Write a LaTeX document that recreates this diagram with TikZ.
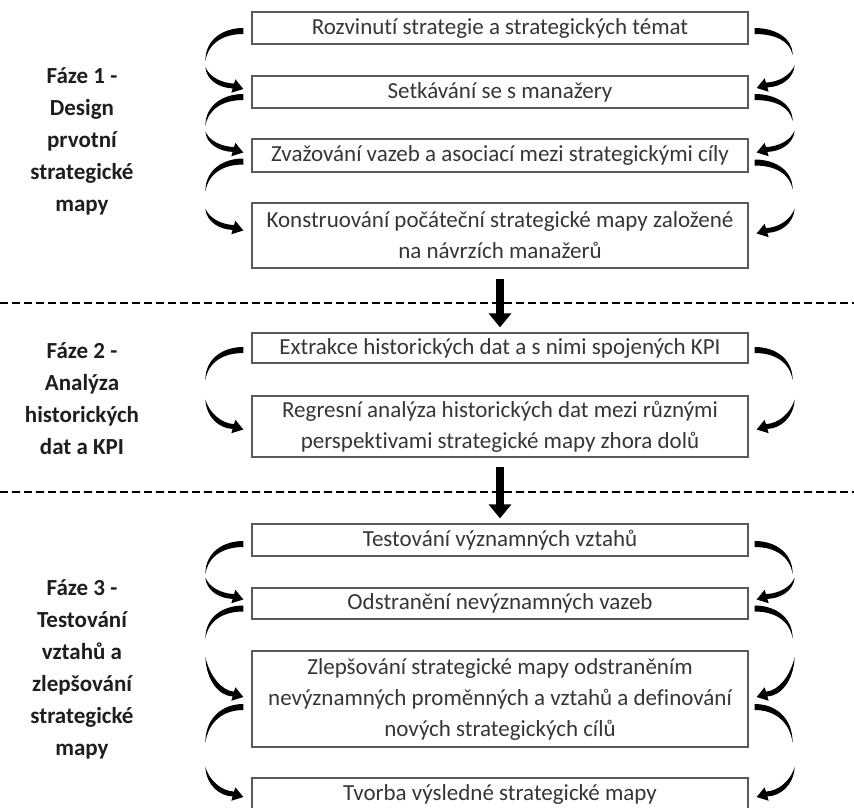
\documentclass[tikz,border=0pt]{standalone}
\usepackage{fontspec}
\setmainfont{Carlito}[Ligatures=NoCommon]
\usetikzlibrary{arrows.meta,calc}

\definecolor{boxgray}{HTML}{5A5A5A}
\definecolor{txtgray}{HTML}{363636}
\definecolor{lblgray}{HTML}{1E1E1E}

\tikzset{
  stage/.style={draw=boxgray, line width=1.3pt, minimum width=496pt, inner sep=0pt,
    align=center, text=txtgray, font=\fontsize{23}{31}\selectfont},
  phase/.style={align=center, text=lblgray, font=\bfseries\fontsize{23}{32}\selectfont},
  divider/.style={line width=2pt, dash pattern=on 8pt off 4pt},
  bigflow/.style={line width=8pt, -{Triangle[length=14pt,width=22pt]}},
  % tapered tail leaving a box, drawn for the left side (mirror with xscale=-1)
  pics/ltail/.style={code={
    \fill (0,-3) .. controls (-20,-3) and (-38,{0.27*#1}) .. (-38,#1)
      .. controls (-35,{0.4*#1}) and (-20,3) .. (0,3) -- cycle;}},
  % tapered curved arrow entering a box, origin at the tip
  pics/larrow/.style={code={
    \fill (-38,{-#1}) .. controls (-37,{-0.4*#1}) and (-24,-1) .. (-10.7,-0.6)
      -- (-12,3.7) -- (0,0) -- (-8,-9.7) -- (-9.3,-5.4)
      .. controls (-22,-6) and (-34,{-0.55*#1}) .. (-38,{-#1}) -- cycle;}},
}

\begin{document}
\begin{tikzpicture}[x=1pt,y=-1pt]
\useasboundingbox[fill=white] (0,0) rectangle (854,808);

% phase 1
\node[stage, minimum height=32pt] (b1) at (500,28) {Rozvinutí strategie a strategických témat};
\node[stage, minimum height=32pt] (b2) at (500,92) {Setkávání se s manažery};
\node[stage, minimum height=33pt] (b3) at (500,155.5) {Zvažování vazeb a asociací mezi strategickými cíly};
\node[stage, minimum height=65pt] (b4) at (500,235.5) {Konstruování počáteční strategické mapy založené\\na návrzích manažerů};

% phase 2
\node[stage, minimum height=30pt] (e1) at (500,348) {Extrakce historických dat a s nimi spojených KPI};
\node[stage, minimum height=61pt] (e2) at (500,426.5) {Regresní analýza historických dat mezi různými\\perspektivami strategické mapy zhora dolů};

% phase 3
\node[stage, minimum height=32pt] (t1) at (500,540) {Testování významných vztahů};
\node[stage, minimum height=31pt] (t2) at (500,603.5) {Odstranění nevýznamných vazeb};
\node[stage, minimum height=96pt] (t3) at (500,699) {Zlepšování strategické mapy odstraněním\\nevýznamných proměnných a vztahů a definování\\nových strategických cílů};
\node[stage, minimum height=32pt] (t4) at (500,794) {Tvorba výsledné strategické mapy};

% phase labels
\node[phase] (p1) at (82,141) {Fáze 1 -\\Design\\prvotní\\strategické\\mapy};
\node[phase] (p2) at (82,399) {Fáze 2 -\\Analýza\\historických\\dat a KPI};
\node[phase] (p3) at (82,669) {Fáze 3 -\\Testování\\vztahů a\\zlepšování\\strategické\\mapy};

% dividers between phases
\coordinate (d1l) at (0,303);   \coordinate (d1r) at (854,303);
\coordinate (d2l) at (0,492);   \coordinate (d2r) at (854,492);
\draw[divider] (d1l) -- (d1r);
\draw[divider] (d2l) -- (d2r);

% flow between phases
\draw[bigflow] ($(b4.south)+(0,10)$) -- ($(e1.north)+(0,-5)$);
\draw[bigflow] ($(e2.south)+(0,9)$) -- ($(t1.north)+(0,-5)$);

% left-hand loops
\pic at ($(b1.west)+(-8,3)$) {ltail=30};
\pic at ($(b2.west)+(-8,-3)$) {larrow=22};
\pic at ($(b2.west)+(-8,5)$) {ltail=29};
\pic at ($(b3.west)+(-8,-3)$) {larrow=21};
\pic at ($(b3.west)+(-8,6)$) {ltail=30};
\pic at ($(b4.west)+(-8,-5)$) {larrow=22};

\pic at ($(e1.west)+(-8,2)$) {ltail=30};
\pic at ($(e2.west)+(-8,3)$) {larrow=30};

\pic at ($(t1.west)+(-8,4)$) {ltail=30};
\pic at ($(t2.west)+(-8,-4)$) {larrow=22};
\pic at ($(t2.west)+(-8,5)$) {ltail=30};
\pic at ($(t3.west)+(-8,-2)$) {larrow=40};
\pic at ($(t3.west)+(-8,8)$) {ltail=36};
\pic at ($(t4.west)+(-8,3)$) {larrow=30};

% right-hand loops
\pic[xscale=-1] at ($(b1.east)+(6,3)$) {ltail=24};
\pic[xscale=-1] at ($(b2.east)+(8,-4)$) {larrow=23};
\pic[xscale=-1] at ($(b2.east)+(6,5)$) {ltail=24};
\pic[xscale=-1] at ($(b3.east)+(8,-3)$) {larrow=22};
\pic[xscale=-1] at ($(b3.east)+(6,7)$) {ltail=27};
\pic[xscale=-1] at ($(b4.east)+(8,-2)$) {larrow=25};

\pic[xscale=-1] at ($(e1.east)+(6,2)$) {ltail=30};
\pic[xscale=-1] at ($(e2.east)+(8,3)$) {larrow=30};

\pic[xscale=-1] at ($(t1.east)+(6,4)$) {ltail=30};
\pic[xscale=-1] at ($(t2.east)+(8,-4)$) {larrow=22};
\pic[xscale=-1] at ($(t2.east)+(6,5)$) {ltail=30};
\pic[xscale=-1] at ($(t3.east)+(8,-2)$) {larrow=40};
\pic[xscale=-1] at ($(t3.east)+(6,8)$) {ltail=36};
\pic[xscale=-1] at ($(t4.east)+(8,3)$) {larrow=30};
\end{tikzpicture}
\end{document}
